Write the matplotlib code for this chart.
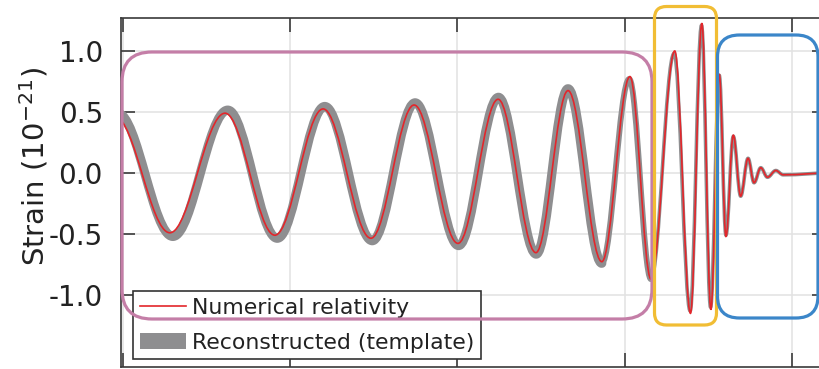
import matplotlib
matplotlib.use('Agg')
import matplotlib.pyplot as plt
from matplotlib.path import Path
from matplotlib.patches import PathPatch, FancyBboxPatch, Patch
from matplotlib.lines import Line2D
from matplotlib.transforms import IdentityTransform

plt.rc('font', family='DejaVu Sans')
plt.rc('axes', unicode_minus=False)

# peaks and troughs of the numerical relativity waveform (time s, strain 1e-21)
nr_time = [0.2477, 0.2641, 0.2806, 0.2955, 0.3099, 0.3242, 0.3371, 0.3502,
           0.3622, 0.3735, 0.3831, 0.3932, 0.4016, 0.4079, 0.4150, 0.4197,
           0.4231, 0.4258, 0.4283, 0.4303, 0.4325, 0.4347, 0.4369, 0.4387,
           0.4407, 0.4427, 0.4452, 0.4474, 0.4615]
nr_strain = [0.46, -0.49, 0.49, -0.51, 0.525, -0.535, 0.557, -0.577,
             0.604, -0.653, 0.675, -0.727, 0.79, -0.87, 1.00, -1.15,
             1.227, -1.12, 0.81, -0.52, 0.31, -0.19, 0.12, -0.08,
             0.043, -0.035, 0.02, -0.015, 0.0]

# peaks and troughs of the reconstructed template band
tmpl_time = [0.2485, 0.2650, 0.2814, 0.2962, 0.3104, 0.3246, 0.3374, 0.3504,
             0.3623, 0.3736, 0.3831, 0.3932, 0.4014, 0.4079, 0.4148, 0.4196,
             0.4230, 0.4257, 0.4283, 0.4303, 0.4325, 0.4347, 0.4369, 0.4387,
             0.4407, 0.4427, 0.4452, 0.4474, 0.4615]
tmpl_strain = [0.49, -0.52, 0.515, -0.535, 0.545, -0.555, 0.575, -0.595,
               0.62, -0.665, 0.69, -0.74, 0.77, -0.87, 0.98, -1.13,
               1.21, -1.10, 0.80, -0.51, 0.30, -0.19, 0.12, -0.08,
               0.043, -0.035, 0.02, -0.015, 0.0]

xticks = [0.25, 0.30, 0.35, 0.40, 0.45]
yticks = [-1.0, -0.5, 0.0, 0.5, 1.0]
ytick_labels = ['-1.0', '-0.5', '0.0', '0.5', '1.0']

red = '#e3262b'
gray = '#8e8e90'
dark = '#3a3a3a'


def wave_path(t, h, k=0.3634):
    # smooth half-wave between consecutive extrema (flat tangents at extrema)
    verts = [(t[0], h[0])]
    codes = [Path.MOVETO]
    for i in range(len(t) - 1):
        d = t[i + 1] - t[i]
        verts += [(t[i] + k * d, h[i]), (t[i + 1] - k * d, h[i + 1]), (t[i + 1], h[i + 1])]
        codes += [Path.CURVE4] * 3
    return Path(verts, codes)


fig = plt.figure(figsize=(8.19, 3.69), dpi=100)
ax = fig.add_axes([121 / 819, 2 / 369, 705 / 819, 349 / 369])

# template band, thinning towards merger
for i0, i1, lw in [(0, 12, 6.6), (11, 14, 4.2), (13, len(tmpl_time), 2.6)]:
    band = PathPatch(wave_path(tmpl_time[i0:i1], tmpl_strain[i0:i1]), fill=False,
                     edgecolor=gray, lw=lw, capstyle='round', joinstyle='round', zorder=2)
    ax.add_patch(band)

nr = PathPatch(wave_path(nr_time, nr_strain), fill=False, edgecolor=red, lw=1.2, zorder=3)
ax.add_patch(nr)

ax.set_xlim(0.2495, 0.4602)
ax.set_ylim(-1.59, 1.27)
ax.set_xticks(xticks)
ax.set_xticklabels([])
ax.set_yticks(yticks)
ax.set_yticklabels(ytick_labels)
ax.tick_params(direction='in', length=10, width=1.2, color=dark, top=True, right=True,
               labelsize=20, labelcolor='#222222', pad=13)
ax.grid(True, color='#e2e2e2', lw=1.1)
ax.set_axisbelow(True)
for s in ax.spines.values():
    s.set_color(dark)
    s.set_linewidth(1.2)

ax.set_ylabel('Strain (10$^{-21}$)', fontsize=21, color='#222222')
ax.yaxis.set_label_coords(-0.10, 0.575)

handles = [Line2D([], [], color=red, lw=1.2),
           Patch(facecolor=gray, edgecolor='none')]
leg = ax.legend(handles, ['Numerical relativity', 'Reconstructed (template)'],
                loc='upper left', bbox_to_anchor=(133 / 819, 78 / 369),
                bbox_transform=fig.transFigure, borderaxespad=0, fontsize=15.8,
                fancybox=False, framealpha=1, handlelength=2.1, handletextpad=0.3,
                borderpad=0.3, labelspacing=0.68)
leg.get_frame().set_edgecolor('#333333')
leg.get_frame().set_linewidth(1.2)
for txt in leg.get_texts():
    txt.set_color('#222222')

# highlight boxes (figure pixels, origin bottom-left)
boxes = [(122, 50, 530, 267, 30, '#c47ea7'),
         (654.5, 44, 62, 318.5, 12, '#f1bd34'),
         (717.5, 51, 100.5, 283, 22, '#3b86c9')]
for x0, y0, w, h, r, c in boxes:
    fig.patches.append(FancyBboxPatch((x0, y0), w, h, boxstyle=f'round,pad=0,rounding_size={r}',
                                      fill=False, edgecolor=c, lw=2.3,
                                      transform=IdentityTransform(), figure=fig, zorder=5))

fig.savefig('out.png', dpi=100)
